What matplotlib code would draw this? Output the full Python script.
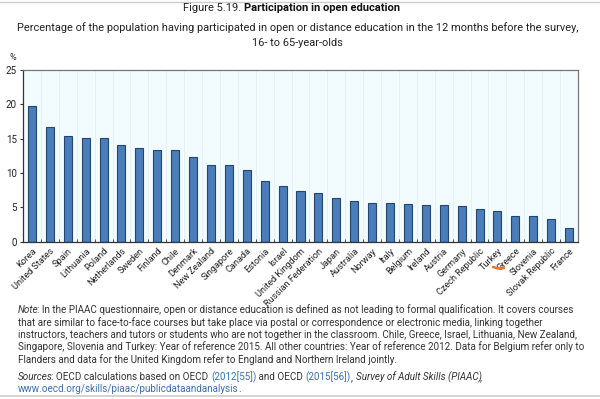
import matplotlib
matplotlib.use("Agg")
import matplotlib.pyplot as plt
from matplotlib.lines import Line2D

# Données
countries = ["Korea", "United States", "Spain", "Lithuania", "Poland", "Netherlands",
             "Sweden", "Finland", "Chile", "Denmark", "New Zealand", "Singapore",
             "Canada", "Estonia", "Israel", "United Kingdom", "Russian Federation",
             "Japan", "Australia", "Norway", "Italy", "Belgium", "Ireland", "Austria",
             "Germany", "Czech Republic", "Turkey", "Greece", "Slovenia",
             "Slovak Republic", "France"]
values = [19.7, 16.7, 15.4, 15.1, 15.1, 14.1, 13.6, 13.4, 13.3, 12.3, 11.2, 11.1,
          10.4, 8.8, 8.1, 7.35, 7.05, 6.3, 5.9, 5.65, 5.55, 5.5, 5.35, 5.35,
          5.2, 4.75, 4.4, 3.75, 3.7, 3.25, 1.9]
yticks = [0, 5, 10, 15, 20, 25]

note_lines = [
    "In the PIAAC questionnaire, open or distance education is defined as not leading to formal qualification. It covers courses",
    "that are similar to face-to-face courses but take place via postal or correspondence or electronic media, linking together",
    "instructors, teachers and tutors or students who are not together in the classroom. Chile, Greece, Israel, Lithuania, New Zealand,",
    "Singapore, Slovenia and Turkey: Year of reference 2015. All other countries: Year of reference 2012. Data for Belgium refer only to",
    "Flanders and data for the United Kingdom refer to England and Northern Ireland jointly.",
]

plt.rcParams["font.family"] = ["Roboto", "DejaVu Sans"]

W, H = 600, 399
fig = plt.figure(figsize=(6, 3.99), dpi=100)
renderer = fig.canvas.get_renderer()

def fx(px):
    return px / W

def fy(py):
    return 1 - py / H

def width_of(t):
    return t.get_window_extent(renderer).width

def fit(t, target):
    # ajuste la taille pour imiter la police étroite de l'original
    t.set_fontsize(t.get_fontsize() * target / width_of(t))

def run(x, y, parts, size, color="#333333"):
    # morceaux de texte à la suite sur la même ligne de base
    for txt, kw in parts:
        style = kw.get("style", "normal")
        t = fig.text(fx(x), fy(y), txt, fontsize=size, ha="left", va="baseline",
                     color=kw.get("color", color), style=style,
                     fontweight=kw.get("weight", "normal"))
        x += width_of(t) - (1.5 if style == "italic" else 0)

# zone du graphique
left, right, top, bottom = 23, 578, 70, 241.5
ax = fig.add_axes([fx(left), fy(bottom), fx(right - left), (bottom - top) / H])
ax.set_facecolor("#F2FCFF")

x = list(range(len(countries)))
for i in range(len(countries) + 1):
    ax.axvline(i - 0.5, color="#E2EEF3", lw=0.6, zorder=0)

ax.bar(x, values, width=0.45, color="#4A7DBA", edgecolor="#24466E", linewidth=0.8, zorder=2)

ax.set_xlim(-0.5, len(countries) - 0.5)
ax.set_ylim(0, 25)
ax.set_yticks(yticks)
ax.set_yticklabels([str(v) for v in yticks], fontsize=7, color="#222222")
ax.set_xticks([i - 0.5 for i in range(1, len(countries))], minor=True)
ax.set_xticks(x)
ax.set_xticklabels(countries, rotation=45, ha="right", va="top", fontsize=6.6,
                   rotation_mode="anchor", color="#222222")
ax.tick_params(axis="x", which="major", length=0, pad=3.5)
ax.tick_params(axis="x", which="minor", length=2, direction="in", color="#333333")
ax.tick_params(axis="y", length=2.5, color="#333333", pad=2)
for s in ax.spines.values():
    s.set_color("#777777")
    s.set_linewidth(0.9)
ax.spines["bottom"].set_color("#333333")
ax.spines["left"].set_color("#333333")

# titres
a = fig.text(0, 0, "Figure 5.19. ", fontsize=8)
b = fig.text(0, 0, "Participation in open education", fontsize=8, fontweight="bold")
wa, wb = width_of(a), width_of(b)
scale = 217 / (wa + wb)
a.remove()
b.remove()
run(183, 11, [("Figure 5.19. ", {"color": "#222222"}),
              ("Participation in open education", {"weight": "bold", "color": "#111111"})],
    8 * scale)

sub1 = fig.text(fx(297.5), fy(28), "Percentage of the population having participated in open or distance "
                "education in the 12 months before the survey,", fontsize=8,
                ha="center", va="center", color="#222222")
fit(sub1, 559)
fig.text(fx(297.5), fy(43), "16- to 65-year-olds", fontsize=sub1.get_fontsize(),
         ha="center", va="center", color="#222222")
fig.text(fx(13), fy(57), "%", fontsize=6.5, ha="center", va="center", color="#222222")

# notes
probe = fig.text(0, 0, "Note: " + note_lines[0], fontsize=7)
note_size = 7 * 559 / width_of(probe)
probe.remove()
note_y = [313, 325.5, 338, 350.5, 363]
run(18, note_y[0], [("Note", {"style": "italic"}), (": " + note_lines[0], {})], note_size)
for yy, line in zip(note_y[1:], note_lines[1:]):
    fig.text(fx(18), fy(yy), line, fontsize=note_size, ha="left", va="baseline",
             color="#333333")

link = "#3B6FB0"
run(18, 380, [("Sources", {"style": "italic"}),
              (": OECD calculations based on OECD ", {}),
              ("(2012[55])", {"color": link}),
              (" and OECD ", {}),
              ("(2015[56])", {"color": link}),
              (", ", {}),
              ("Survey of Adult Skills (PIAAC)", {"style": "italic"}),
              (",", {})], note_size)
run(18, 392, [("www.oecd.org/skills/piaac/publicdataandanalysis", {"color": link}),
              (".", {})], note_size)

# traits gris haut et bas, trait orange sous Greece
fig.add_artist(Line2D([0, 1], [fy(1.5), fy(1.5)], color="#CCCCCC", lw=1))
fig.add_artist(Line2D([0, 1], [fy(396), fy(396)], color="#CCCCCC", lw=1.2))
fig.add_artist(Line2D([fx(493), fx(498), fx(504)], [fy(267), fy(268.5), fy(268)],
                      color="#E8792A", lw=1.8, solid_capstyle="round"))

fig.savefig("out.png", dpi=100, facecolor="white")
